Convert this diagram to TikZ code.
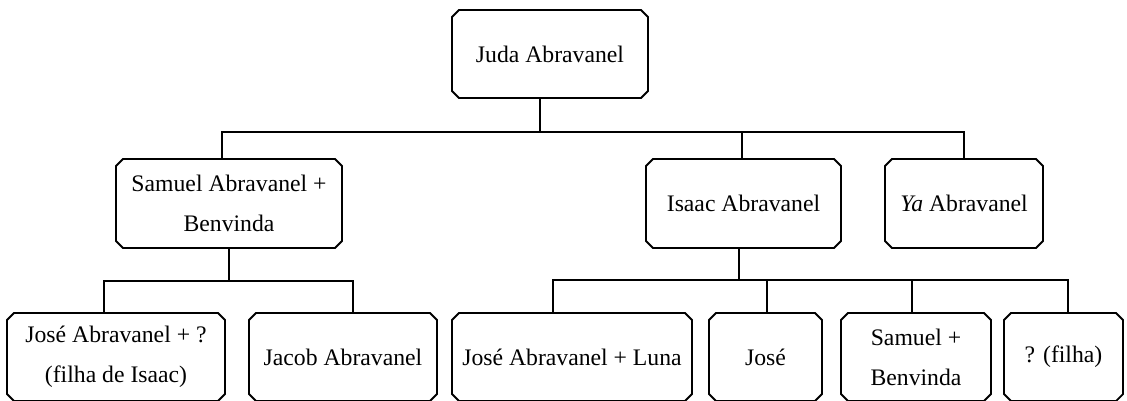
\documentclass[tikz,border=0pt]{standalone}
\usepackage{fontspec}
\setmainfont{Liberation Serif}
\usetikzlibrary{shapes.misc}

\tikzset{
    pessoa/.style={draw, line width=1.8pt, chamfered rectangle, chamfered rectangle xsep=3.5pt, chamfered rectangle ysep=3.5pt, inner sep=0pt, align=center, font=\fontsize{23.7}{40}\selectfont},
    linha/.style={line width=1.5pt}
}

\begin{document}
\begin{tikzpicture}[x=1pt, y=-1pt]
    \useasboundingbox (0,0) rectangle (1127,400);

    % Geração 1
    \node[pessoa, minimum width=196pt, minimum height=88pt] (juda) at (550, 54) {Juda Abravanel};

    % Geração 2
    \node[pessoa, minimum width=226pt, minimum height=89pt] (samuel) at (229, 203.5) {Samuel Abravanel +\\Benvinda};
    \node[pessoa, minimum width=195pt, minimum height=89pt] (isaac) at (743.5, 203.5) {Isaac Abravanel};
    \node[pessoa, minimum width=158pt, minimum height=89pt] (ya) at (964, 203.5) {\textit{Ya} Abravanel};

    % Geração 3
    \node[pessoa, minimum width=218pt, minimum height=88pt] (jose1) at (116, 357) {José Abravanel + ?\\(filha de Isaac)};
    \node[pessoa, minimum width=188pt, minimum height=88pt] (jacob) at (343, 357) {Jacob Abravanel};
    \node[pessoa, minimum width=240pt, minimum height=88pt] (joseluna) at (572, 357) {José Abravanel + Luna};
    \node[pessoa, minimum width=113pt, minimum height=88pt] (jose2) at (765.5, 357) {José};
    \node[pessoa, minimum width=150pt, minimum height=88pt] (samuel2) at (916, 357) {Samuel +\\Benvinda};
    \node[pessoa, minimum width=119pt, minimum height=88pt] (filha) at (1063.5, 357) {? (filha)};

    % Ligações
    \coordinate (b1) at (540, 132);
    \coordinate (b2) at (229, 281);
    \coordinate (b3) at (739, 280);

    \draw[linha] ([xshift=-10pt]juda.south) -- (b1);
    \draw[linha] ([xshift=-7pt]samuel.north) |- (b1) -| (ya.north);
    \draw[linha] ([xshift=-1.5pt]isaac.north) -- ([xshift=-1.5pt]isaac.north |- b1);

    \draw[linha] (samuel.south) -- (b2);
    \draw[linha] ([xshift=-12pt]jose1.north) |- (b2) -| ([xshift=10pt]jacob.north);

    \draw[linha] ([xshift=-4.5pt]isaac.south) -- (b3);
    \draw[linha] ([xshift=-19pt]joseluna.north) |- (b3) -| ([xshift=4.5pt]filha.north);
    \draw[linha] ([xshift=1.5pt]jose2.north) -- ([xshift=1.5pt]jose2.north |- b3);
    \draw[linha] ([xshift=-4pt]samuel2.north) -- ([xshift=-4pt]samuel2.north |- b3);
\end{tikzpicture}
\end{document}
